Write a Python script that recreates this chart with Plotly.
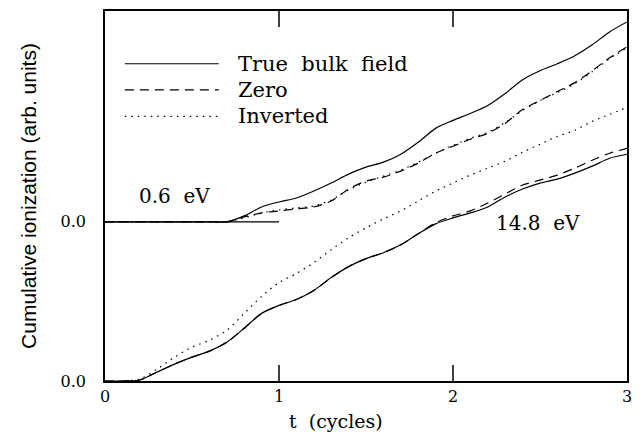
import plotly.graph_objects as go

# time grid (cycles)
t = [round(0.1 * i, 1) for i in range(31)]

# 0.6 eV curves (offset baseline at 160 arb. units)
low_true = [160]*8 + [166, 175, 180, 184, 191, 199, 208, 215, 220, 228, 240, 254, 262, 269,
                      277, 289, 303, 312, 319, 327, 338, 351, 361]
low_zero = [160]*8 + [165, 169, 171, 173, 175, 181, 193, 201, 205, 211, 219, 229, 236, 243,
                      249, 259, 273, 282, 291, 300, 312, 325, 336]
low_inv = [160]*8 + [164, 169, 172, 174, 176, 182, 192, 200, 206, 212, 220, 229, 237, 244,
                     250, 260, 272, 282, 290, 299, 311, 324, 335]

# 14.8 eV curves (baseline at 0)
high_true = [0, 0, 1, 9, 17, 24, 30, 39, 53, 68, 76, 82, 91, 104, 115, 123, 129, 137, 148,
             158, 164, 169, 175, 185, 193, 199, 203, 209, 216, 224, 228]
high_zero = [0, 0, 1, 9, 17, 24, 30, 39, 53, 68, 76, 82, 91, 104, 115, 123, 129, 137, 148,
             159, 166, 171, 179, 188, 197, 202, 207, 214, 222, 229, 234]
high_inv = [0, 0, 2, 12, 24, 34, 41, 51, 68, 85, 99, 108, 119, 132, 144, 154, 163, 171, 181,
            191, 199, 207, 214, 221, 230, 238, 246, 252, 261, 268, 275]

baseline_t = [0, 1]
baseline_y = [160, 160]

ytick_vals = [0, 160]
ytick_text = ["0.0", "0.0"]
xtick_vals = [0, 1, 2, 3]
xtick_text = ["0", "1", "2", "3"]
y_range = [0, 372]

names = ["True  bulk  field", "Zero", "Inverted"]
dashes = ["solid", "9px,6px", "1.5px,5px"]

serif = "DejaVu Serif"
fig = go.Figure()

fig.add_trace(go.Scatter(x=baseline_t, y=baseline_y, mode="lines",
                         line=dict(color="black", width=1.2), showlegend=False))
for ys, d in zip([low_true, low_zero, low_inv], dashes):
    fig.add_trace(go.Scatter(x=t, y=ys, mode="lines",
                             line=dict(color="black", width=1.2, dash=d, shape="spline", smoothing=0.8),
                             showlegend=False))
for ys, d in zip([high_true, high_zero, high_inv], dashes):
    fig.add_trace(go.Scatter(x=t, y=ys, mode="lines",
                             line=dict(color="black", width=1.2, dash=d, shape="spline", smoothing=0.8),
                             showlegend=False))

# inward tick marks (bottom and top) at the interior x ticks
tick_len = 16
tx, ty = [], []
for xv in xtick_vals[1:-1]:
    tx += [xv, xv, None, xv, xv, None]
    ty += [y_range[0], y_range[0] + tick_len, None, y_range[1] - tick_len, y_range[1], None]
fig.add_trace(go.Scatter(x=tx, y=ty, mode="lines", line=dict(color="black", width=1.5),
                         showlegend=False, cliponaxis=False))

# manual legend
rows = [0.8575, 0.787, 0.715]
for name, d, ry in zip(names, dashes, rows):
    fig.add_shape(type="line", xref="paper", yref="paper", x0=0.038, x1=0.218, y0=ry, y1=ry,
                  line=dict(color="black", width=1.2, dash=d))
    fig.add_annotation(xref="paper", yref="paper", x=0.25, y=ry, text=name, showarrow=False,
                       xanchor="left", yanchor="middle", font=dict(family=serif, size=21, color="black"))

fig.add_annotation(x=0.40, y=186, text="0.6  eV", showarrow=False,
                   font=dict(family=serif, size=20, color="black"))
fig.add_annotation(x=2.49, y=159, text="14.8  eV", showarrow=False,
                   font=dict(family=serif, size=20, color="black"))
fig.add_annotation(x=1.33, xref="x", yref="paper", y=-0.072, yanchor="top",
                   text="t  (cycles)", showarrow=False,
                   font=dict(family=serif, size=19, color="black"))

fig.update_xaxes(range=[0, 3], tickvals=xtick_vals, ticktext=xtick_text,
                 ticks="", showline=True, linecolor="black", linewidth=1.5, mirror=True,
                 showgrid=False, zeroline=False,
                 tickfont=dict(family=serif, size=16, color="black"))
fig.update_yaxes(range=y_range, tickvals=ytick_vals, ticktext=ytick_text,
                 ticks="", showline=True, linecolor="black", linewidth=1.5, mirror=True,
                 showgrid=False, zeroline=False, ticklabelstandoff=14,
                 tickfont=dict(family=serif, size=16, color="black"),
                 title=dict(text="Cumulative ionization (arb. units)", standoff=18,
                            font=dict(family="Liberation Sans", size=21, color="black")))

fig.update_layout(width=641, height=436, margin=dict(l=105, r=9, t=9, b=55),
                  plot_bgcolor="white", paper_bgcolor="white", showlegend=False)

fig.write_html("out.html")
